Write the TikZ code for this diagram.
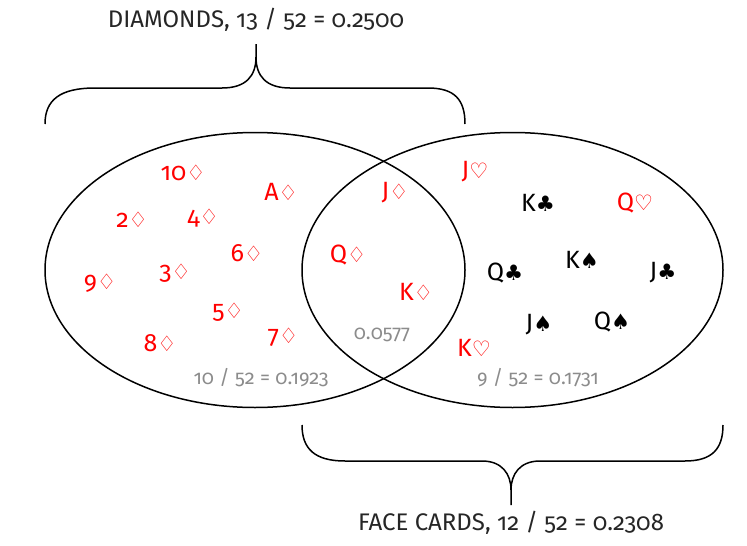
\documentclass[tikz,border=0pt]{standalone}
\usepackage{fontspec}
\setmainfont{Fira Sans}[Numbers=OldStyle]
\newfontfamily\suitfont{DejaVu Sans}[Scale=0.85]
\usetikzlibrary{positioning}
\newcommand{\dia}{{\suitfont ♢}}
\newcommand{\hrt}{{\suitfont ♡}}
\newcommand{\clb}{{\suitfont ♣}}
\newcommand{\spd}{{\suitfont ♠}}

\begin{document}
\begin{tikzpicture}[x=1pt,y=-1pt,
  card/.style={font=\fontsize{25}{28}\selectfont, inner sep=0pt},
  redcard/.style={card,text=red},
  blackcard/.style={card,text=black},
  prob/.style={font=\fontsize{20}{23}\selectfont,text=black!45},
  title/.style={font=\fontsize{24}{27}\selectfont,text=black!85},
  ring/.style={line width=1.5pt},
  brace/.style={line width=1.5pt}]
\useasboundingbox (0,0) rectangle (747,546);

% The two sets
\draw[ring] (255,270) ellipse [x radius=210, y radius=137.5];
\draw[ring] (512.5,270) ellipse [x radius=210.5, y radius=137.5];

% Diamonds only
\node[redcard] (d10) at (183,173) {10\dia};
\node[redcard] (dA) at (281,192) {A\dia};
\node[redcard] (d2) at (132,220) {2\dia};
\node[redcard] (d4) at (203,218) {4\dia};
\node[redcard] (d6) at (247,253) {6\dia};
\node[redcard] (d9) at (100,283) {9\dia};
\node[redcard] (d3) at (175,273) {3\dia};
\node[redcard] (d5) at (228,312) {5\dia};
\node[redcard] (d7) at (283,337) {7\dia};
\node[redcard] (d8) at (160,343) {8\dia};
\node[prob] (pdia) at (261,378) {10 / 52 = 0.1923};

% Diamond face cards
\node[redcard] (dJ) at (395,193) {J\dia};
\node[redcard] (dQ) at (348,255) {Q\dia};
\node[redcard] (dK) at (416,292) {K\dia};
\node[prob] (pboth) at (382,335) {0.0577};

% Other face cards
\node[redcard] (hJ) at (475,172) {J\hrt};
\node[blackcard] (cK) at (538,203) {K\clb};
\node[redcard] (hQ) at (635,203) {Q\hrt};
\node[blackcard] (sK) at (582,260) {K\spd};
\node[blackcard] (cQ) at (505,273) {Q\clb};
\node[blackcard] (cJ) at (663,273) {J\clb};
\node[blackcard] (sJ) at (539,325) {J\spd};
\node[blackcard] (sQ) at (612,322) {Q\spd};
\node[redcard] (hK) at (474,348) {K\hrt};
\node[prob] (pface) at (538,378) {9 / 52 = 0.1731};

% Braces and totals
\node[title] (tdia) at (256,20) {DIAMONDS, 13 / 52 = 0.2500};
\coordinate (tiptop) at (256,44);
\draw[brace] (45,124) .. controls (45,100) and (60,88) .. (95,88) -- (222,88)
  .. controls (246,88) and (256,76) .. (256,57) -- (tiptop);
\draw[brace] (256,57) .. controls (256,76) and (266,88) .. (290,88) -- (428,88)
  .. controls (455,88) and (465,100) .. (465,124);

\node[title] (tface) at (511,523) {FACE CARDS, 12 / 52 = 0.2308};
\coordinate (tipbot) at (511,505);
\draw[brace] (302,425) .. controls (302,449) and (315,461) .. (345,461) -- (482,461)
  .. controls (502,461) and (511,474) .. (511,490) -- (tipbot);
\draw[brace] (511,490) .. controls (511,474) and (520,461) .. (540,461) -- (685,461)
  .. controls (712,461) and (723,449) .. (723,425);
\end{tikzpicture}
\end{document}
